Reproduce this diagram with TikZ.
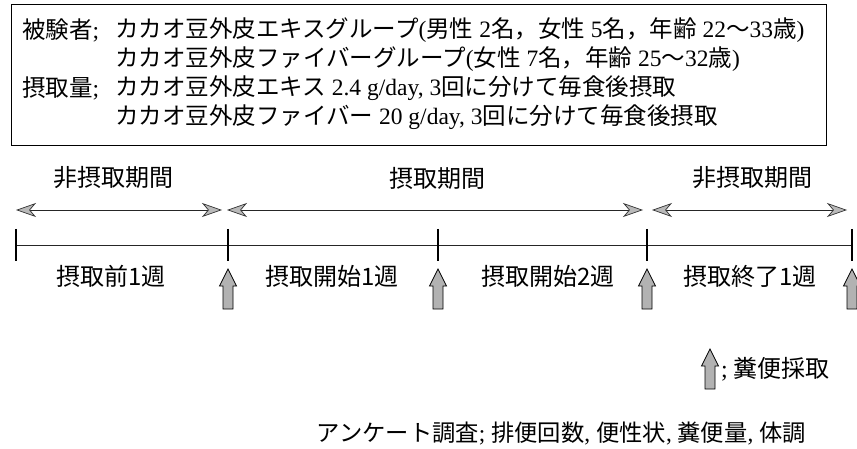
\documentclass[tikz,border=0pt]{standalone}
\usepackage{fontspec}
\setmainfont{Liberation Serif}
\newfontfamily\jp{Noto Sans CJK JP}
\newfontfamily\lat{Liberation Serif}
\usetikzlibrary{arrows.meta}
\tikzset{
  boxtxt/.style={anchor=west, inner sep=0pt, font=\jp\fontsize{23.5}{28}\selectfont},
  lbl/.style={inner sep=0pt, font=\jp\fontsize{24}{28}\selectfont},
  period/.style={draw=gray!30!black, line width=0.7pt,
    {Stealth[length=20pt,width=14pt,inset=6pt,fill=gray!55,color=gray!40!black]}-{Stealth[length=20pt,width=14pt,inset=6pt,fill=gray!55,color=gray!40!black]}},
  timeline/.style={draw=gray!30!black, line width=0.8pt},
  tickmark/.style={draw=black, line width=1.3pt},
  infobox/.style={draw=black, line width=0.7pt},
  stoolarrow/.pic={
    \path[fill=gray!60, draw=black, line width=0.7pt]
      (0,0) -- (8.5,17) -- (5,17) -- (5,40) -- (-5,40) -- (-5,17) -- (-8.5,17) -- cycle;
  }
}
\begin{document}
\begin{tikzpicture}[x=1pt,y=-1pt]
\useasboundingbox (0,0) rectangle (857,449);
% info box
\draw[infobox] (11,4) rectangle (826,145);
\node[boxtxt] (s1) at (22,30) {被験者{\lat ;}};
\node[boxtxt] (g1) at (115,30) {カカオ豆外皮エキスグループ{\lat (}男性{\lat\ 2}名，女性{\lat\ 5}名，年齢{\lat\ 22}～{\lat 33}歳{\lat )}};
\node[boxtxt] (g2) at (115,59) {カカオ豆外皮ファイバーグループ{\lat (}女性{\lat\ 7}名，年齢{\lat\ 25}～{\lat 32}歳{\lat )}};
\node[boxtxt] (s2) at (22,88) {摂取量{\lat ;}};
\node[boxtxt] (d1) at (115,88) {カカオ豆外皮エキス{\lat\ 2.4 g/day, 3}回に分けて毎食後摂取};
\node[boxtxt] (d2) at (115,117) {カカオ豆外皮ファイバー{\lat\ 20 g/day, 3}回に分けて毎食後摂取};
% period labels
\node[lbl] (pl1) at (113,178) {非摂取期間};
\node[lbl] (pl2) at (437,178) {摂取期間};
\node[lbl] (pl3) at (752,178) {非摂取期間};
% period arrows
\coordinate (a1) at (16,210);  \coordinate (b1) at (222,210);
\coordinate (a2) at (227,210); \coordinate (b2) at (643,210);
\coordinate (a3) at (652,210); \coordinate (b3) at (847,210);
\draw[period] (a1) -- (b1);
\draw[period] (a2) -- (b2);
\draw[period] (a3) -- (b3);
% timeline
\coordinate (t0) at (16,245);
\coordinate (t1) at (228,245);
\coordinate (t2) at (438,245);
\coordinate (t3) at (647,245);
\coordinate (t4) at (852,245);
\draw[timeline] (t0) -- (t4);
\foreach \t in {t0,t1,t2,t3,t4} {
  \draw[tickmark] (\t) ++(0,-16) -- ++(0,32);
}
% week labels
\node[lbl] (w1) at (111,276) {摂取前1週};
\node[lbl] (w2) at (332,276) {摂取開始1週};
\node[lbl] (w3) at (548,276) {摂取開始2週};
\node[lbl] (w4) at (750,276) {摂取終了1週};
% stool sampling arrows
\pic at (228,269) {stoolarrow};
\pic at (438,269) {stoolarrow};
\pic at (647,269) {stoolarrow};
\pic at (852,269) {stoolarrow};
% legend
\pic at (710,349) {stoolarrow};
\node[lbl, anchor=west] (leg) at (721,369) {{\lat ;\ }糞便採取};
% survey
\node[lbl, anchor=east, font=\jp\fontsize{23.3}{28}\selectfont] (sv) at (806,433) {アンケート調査{\lat ;\ }排便回数{\lat ,\ }便性状{\lat ,\ }糞便量{\lat ,\ }体調};
\end{tikzpicture}
\end{document}
